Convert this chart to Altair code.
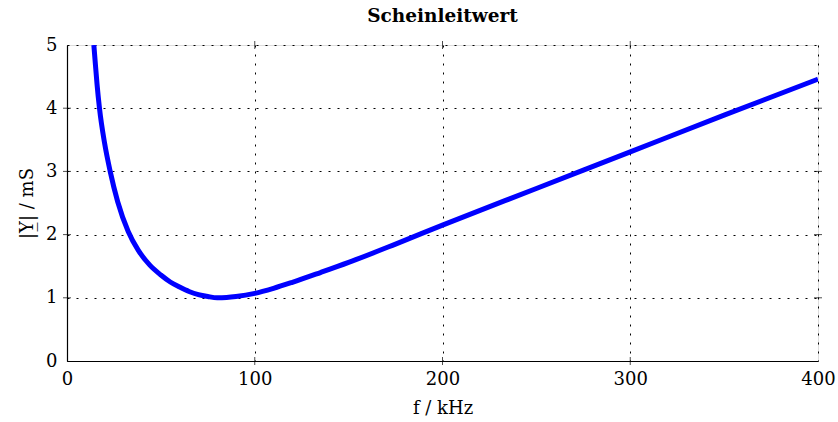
import altair as alt
import pandas as pd

# frequency in kHz
freq = [14.3, 15.0, 16.0, 17.3, 20.0, 23.0, 27.0, 32.6, 38.0, 44.0, 50.0, 55.0, 60.0,
        65.0, 70.0, 75.0, 80.0, 85.0, 90.0, 100.0, 110.0, 120.0, 135.0, 150.0, 175.0,
        200.0, 250.0, 300.0, 350.0, 400.0]
# |Y| in mS
admittance = [5.0, 4.74, 4.38, 4.0, 3.45, 3.0, 2.52, 2.05, 1.75, 1.52, 1.36, 1.25, 1.17,
              1.10, 1.05, 1.02, 1.0, 1.005, 1.02, 1.07, 1.15, 1.245, 1.40, 1.56, 1.85,
              2.15, 2.73, 3.31, 3.89, 4.46]

x_ticks = [0, 100, 200, 300, 400]
y_ticks = [0, 1, 2, 3, 4, 5]
x_inner = [100, 200, 300]
y_inner = [1, 2, 3, 4]

W, H = 751, 316
FONT = "DejaVu Serif"

df = pd.DataFrame({"f": freq, "Y": admittance})
xscale = alt.Scale(domain=[0, 400], nice=False)
yscale = alt.Scale(domain=[0, 5], nice=False)

line = alt.Chart(df).mark_line(color="#0000ff", strokeWidth=5, interpolate="monotone", clip=True).encode(
    x=alt.X("f:Q", scale=xscale,
            axis=alt.Axis(values=x_ticks, format="d", title="f / kHz", grid=True, gridColor="black",
                          gridDash=[2, 7], gridOpacity=1, gridWidth=1, labelFlush=False,
                          domainColor="black", domainWidth=1.2, ticks=False,
                          labelFont=FONT, labelFontSize=18, labelColor="black", labelPadding=9,
                          titleFont=FONT, titleFontSize=18, titleFontWeight="normal",
                          titleColor="black", titlePadding=11)),
    y=alt.Y("Y:Q", scale=yscale,
            axis=alt.Axis(values=y_ticks, format="d", title="|Y̲| / mS", grid=True, gridColor="black",
                          gridDash=[2, 7], gridOpacity=1, gridWidth=1, labelFlush=False,
                          domainColor="black", domainWidth=1.2, ticks=False,
                          labelFont=FONT, labelFontSize=18, labelColor="black", labelPadding=10,
                          titleFont=FONT, titleFontSize=18, titleFontWeight="normal",
                          titleColor="black", titlePadding=9)),
)

xt = pd.DataFrame({"f": x_inner})
yt = pd.DataFrame({"Y": y_inner})
tick_bottom = alt.Chart(xt).mark_tick(color="black", size=8, thickness=1, orient="vertical").encode(
    x=alt.X("f:Q", scale=xscale), y=alt.value(H))
tick_top = alt.Chart(xt).mark_tick(color="black", size=8, thickness=1, orient="vertical").encode(
    x=alt.X("f:Q", scale=xscale), y=alt.value(0))
tick_left = alt.Chart(yt).mark_tick(color="black", size=8, thickness=1, orient="horizontal").encode(
    y=alt.Y("Y:Q", scale=yscale), x=alt.value(0))
tick_right = alt.Chart(yt).mark_tick(color="black", size=8, thickness=1, orient="horizontal").encode(
    y=alt.Y("Y:Q", scale=yscale), x=alt.value(W))

chart = alt.layer(tick_bottom, tick_top, tick_left, tick_right, line).properties(
    width=W, height=H,
    title=alt.Title("Scheinleitwert", font=FONT, fontSize=18.5, fontWeight="bold",
                    color="black", anchor="middle", offset=11),
    padding={"left": 67, "top": 45, "right": 20, "bottom": 61},
    autosize=alt.AutoSizeParams(type="none"),
).configure_view(stroke="black", strokeWidth=1.2).configure(background="white")

chart.save("out.html", embed_options={"renderer": "svg", "actions": False})
